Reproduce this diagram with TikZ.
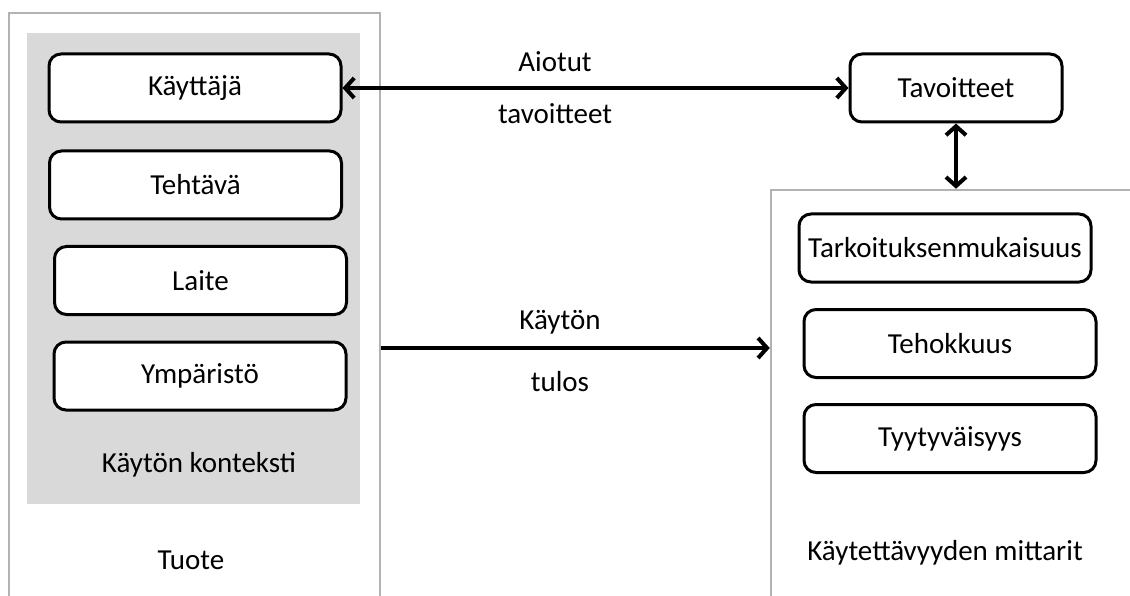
\documentclass[tikz,border=0pt]{standalone}
\usepackage{fontspec}
\setmainfont{Carlito}
\usetikzlibrary{arrows.meta}
\definecolor{panelgray}{RGB}{178,178,178}
\definecolor{contextgray}{RGB}{217,217,217}

\tikzset{
    itembox/.style={draw, rounded corners=12pt, line width=3pt, fill=white,
        minimum width=292pt, minimum height=68pt},
    panel/.style={draw=panelgray, line width=2.5pt, inner sep=0pt},
    flow/.style={line width=4pt}
}

\begin{document}
\begin{tikzpicture}[x=1pt, y=-1pt, font=\fontsize{29}{35}\selectfont,
        >={Straight Barb[length=9pt,width=20pt]}]
            
                \clip (0,0) rectangle (1130,596);
                
                % panels
                \node[panel, minimum width=371pt, minimum height=670pt] (tuote) at (194.5,348) {};
                \node[fill=contextgray, minimum width=333pt, minimum height=471pt] (konteksti) at (193.5,268.5) {};
                \node[panel, minimum width=420pt, minimum height=500pt] (mittarit) at (981,440) {};
                
                \node (tuotelabel) at (191,560) {Tuote};
                \node (kontekstilabel) at (199,465) {Käytön konteksti};
                \node (mittaritlabel) at (945,553) {Käytettävyyden mittarit};
                
                % boxes
                \node[itembox] (kayttaja) at (195,88) {Käyttäjä};
                \node[itembox] (tehtava) at (195.5,185) {Tehtävä};
                \node[itembox] (laite) at (200.5,280.5) {Laite};
                \node[itembox] (ymparisto) at (200,376) {Ympäristö};
                
                \node[itembox, minimum width=212pt] (tavoitteet) at (956,88) {Tavoitteet};
                \node[itembox] (tarkoitus) at (945,248) {Tarkoituksenmukaisuus};
                \node[itembox] (tehokkuus) at (950,343.5) {Tehokkuus};
                \node[itembox] (tyytyvaisyys) at (950,438.5) {Tyytyväisyys};
                
                % arrows
                \draw[flow, <->] (kayttaja) -- node[pos=0.42, yshift=26pt] {Aiotut}
                    node[pos=0.42, yshift=-26pt] {tavoitteet} (tavoitteet);
                \draw[flow, <->] (tavoitteet.south) -- (tavoitteet.south |- mittarit.north);
                \draw[flow, ->] (tuote.east) -- node[pos=0.46, yshift=26pt] {Käytön}
                    node[pos=0.46, yshift=-34pt] {tulos} (tuote.east -| mittarit.west);
                
\end{tikzpicture}
\end{document}
